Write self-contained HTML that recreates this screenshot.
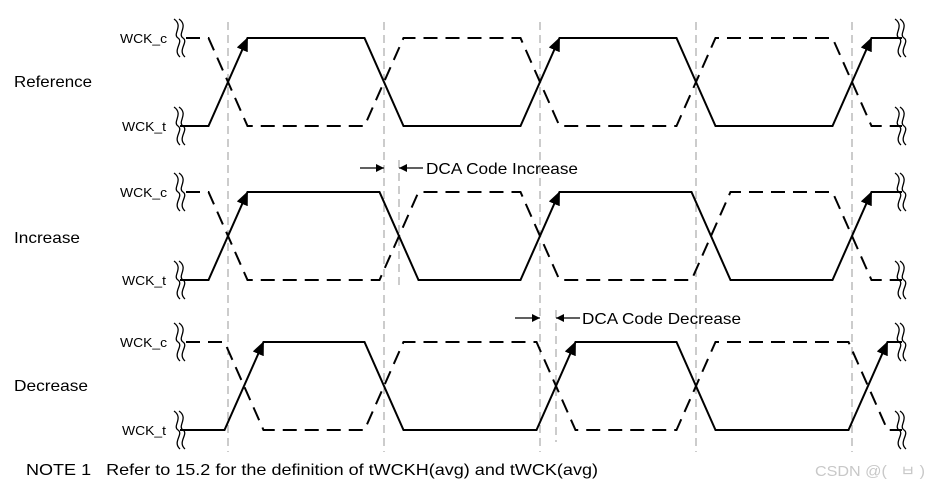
<!DOCTYPE html>
<html><head><meta charset="utf-8"><style>
html,body{margin:0;padding:0;background:#fff;}
svg{display:block;}
text{font-family:"Liberation Sans",Arial,sans-serif;}
</style></head><body>
<svg width="930" height="486" viewBox="0 0 930 486" xmlns="http://www.w3.org/2000/svg">
<defs>
<marker id="ah" markerWidth="14" markerHeight="12" refX="13" refY="6" orient="auto" markerUnits="userSpaceOnUse">
<path d="M0,0 L14,6 L0,12 z" fill="#000"/>
</marker>
<marker id="sa" markerWidth="8" markerHeight="8" refX="8" refY="4" orient="auto" markerUnits="userSpaceOnUse">
<path d="M0,0 L8,4 L0,8 z" fill="#000"/>
</marker>
<g id="br"><path d="M174,-19 C184,-12 172,-4 178,0 C184,4 172,12 180,19"/><path d="M179,-19 C189,-12 177,-4 183,0 C189,4 177,12 185,19"/></g>
</defs>
<g stroke="#999" stroke-width="1" stroke-dasharray="8,5" fill="none">
<line x1="228" y1="22" x2="228" y2="452"/>
<line x1="384" y1="22" x2="384" y2="452"/>
<line x1="540" y1="22" x2="540" y2="452"/>
<line x1="696" y1="22" x2="696" y2="452"/>
<line x1="852" y1="22" x2="852" y2="452"/>
<line x1="399" y1="160" x2="399" y2="290"/>
<line x1="556" y1="310" x2="556" y2="442"/>
</g>
<g stroke="#000" stroke-width="2" fill="none" stroke-linejoin="miter">
<path d="M180,126 L208.5,126 L247.5,38 L364.5,38 L403.5,126 L520.5,126 L559.5,38 L676.5,38 L715.5,126 L832.5,126 L871.5,38 L902,38"/>
<path d="M180,280 L208.5,280 L247.5,192 L379.5,192 L418.5,280 L520.5,280 L559.5,192 L691.5,192 L730.5,280 L832.5,280 L871.5,192 L902,192"/>
<path d="M180,430 L224.5,430 L263.5,342 L364.5,342 L403.5,430 L536.5,430 L575.5,342 L676.5,342 L715.5,430 L848.5,430 L887.5,342 L902,342"/>
</g>
<g stroke="none" fill="none">
<path d="M228,82 L247.5,38" marker-end="url(#ah)"/>
<path d="M540,82 L559.5,38" marker-end="url(#ah)"/>
<path d="M852,82 L871.5,38" marker-end="url(#ah)"/>
<path d="M228,236 L247.5,192" marker-end="url(#ah)"/>
<path d="M540,236 L559.5,192" marker-end="url(#ah)"/>
<path d="M852,236 L871.5,192" marker-end="url(#ah)"/>
<path d="M244,386 L263.5,342" marker-end="url(#ah)"/>
<path d="M556,386 L575.5,342" marker-end="url(#ah)"/>
<path d="M868,386 L887.5,342" marker-end="url(#ah)"/>
</g>
<g stroke="#000" stroke-width="2" fill="none" stroke-dasharray="14,8">
<path d="M186,38 L208.5,38 L247.5,126 L364.5,126 L403.5,38 L520.5,38 L559.5,126 L676.5,126 L715.5,38 L832.5,38 L871.5,126 L902,126"/>
<path d="M186,192 L208.5,192 L247.5,280 L379.5,280 L418.5,192 L520.5,192 L559.5,280 L691.5,280 L730.5,192 L832.5,192 L871.5,280 L902,280"/>
<path d="M186,342 L224.5,342 L263.5,430 L364.5,430 L403.5,342 L536.5,342 L575.5,430 L676.5,430 L715.5,342 L848.5,342 L887.5,430 L902,430"/>
</g>
<g stroke="#000" stroke-width="1.3" fill="none">
<use href="#br" transform="translate(0,38)"/><use href="#br" transform="translate(0,126)"/>
<use href="#br" transform="translate(0,192)"/><use href="#br" transform="translate(0,280)"/>
<use href="#br" transform="translate(0,342)"/><use href="#br" transform="translate(0,430)"/>
<use href="#br" transform="translate(721,38)"/><use href="#br" transform="translate(721,126)"/>
<use href="#br" transform="translate(721,192)"/><use href="#br" transform="translate(721,280)"/>
<use href="#br" transform="translate(721,342)"/><use href="#br" transform="translate(721,430)"/>
</g>
<g stroke="#000" stroke-width="1.2" fill="none">
<path d="M360,168 L384,168" marker-end="url(#sa)"/>
<path d="M423,168 L399,168" marker-end="url(#sa)"/>
<path d="M515,318 L540,318" marker-end="url(#sa)"/>
<path d="M580,318 L556,318" marker-end="url(#sa)"/>
</g>
<g fill="#000" font-size="13">
<text x="120" y="43" textLength="47" lengthAdjust="spacingAndGlyphs">WCK_c</text>
<text x="122" y="131" textLength="44" lengthAdjust="spacingAndGlyphs">WCK_t</text>
<text x="120" y="197" textLength="47" lengthAdjust="spacingAndGlyphs">WCK_c</text>
<text x="122" y="285" textLength="44" lengthAdjust="spacingAndGlyphs">WCK_t</text>
<text x="120" y="347" textLength="47" lengthAdjust="spacingAndGlyphs">WCK_c</text>
<text x="122" y="435" textLength="44" lengthAdjust="spacingAndGlyphs">WCK_t</text>
</g>
<g fill="#000" font-size="16">
<text x="14" y="87" textLength="78" lengthAdjust="spacingAndGlyphs">Reference</text>
<text x="14" y="243" textLength="66" lengthAdjust="spacingAndGlyphs">Increase</text>
<text x="14" y="391" textLength="74" lengthAdjust="spacingAndGlyphs">Decrease</text>
<text x="426" y="174" textLength="152" lengthAdjust="spacingAndGlyphs">DCA Code Increase</text>
<text x="582" y="324" textLength="159" lengthAdjust="spacingAndGlyphs">DCA Code Decrease</text>
<text x="26" y="475" textLength="572" lengthAdjust="spacingAndGlyphs">NOTE 1&#160;&#160;&#160;Refer to 15.2 for the definition of tWCKH(avg) and tWCK(avg)</text>
</g>
<text x="815" y="476" font-size="15" fill="#c8c8c8" textLength="110" lengthAdjust="spacingAndGlyphs">CSDN @(&#160;&#160;&#160;ㅂ&#160;)</text>
</svg>
</body></html>
